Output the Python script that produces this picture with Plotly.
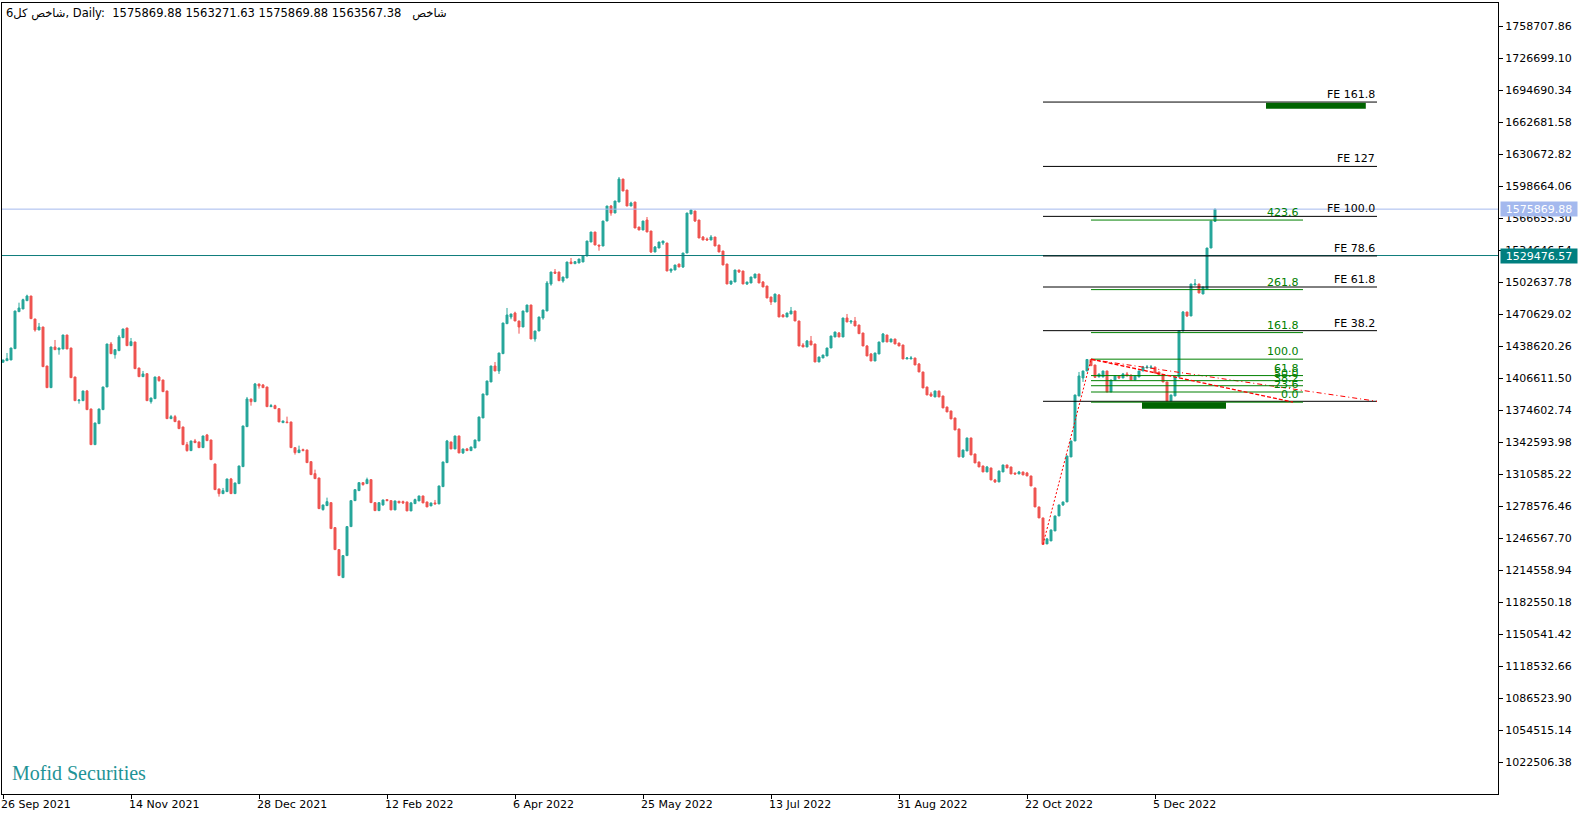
import plotly.graph_objects as go

# ---------------- data (daily candles) ----------------
open_ = [
1422700,1424300,1425000,1436300,1473300,1476000,1484300,1489000,1466000,1455000,
1458000,1419000,1397300,1438000,1435300,1436000,1450000,1437000,1408000,1384300,
1384300,1394000,1376000,1340300,1361300,1375300,1398000,1441000,1430300,1434300,
1447300,1457000,1439300,1443000,1417000,1408300,1411300,1383300,1386300,1408000,
1405000,1394000,1366300,1368300,1364000,1358000,1340300,1334300,1344000,1343000,
1337300,1350000,1345000,1321000,1296000,1291300,1293300,1306000,1291300,1301300,
1318300,1358300,1386000,1383300,1401000,1400000,1398000,1378300,1379300,1376300,
1362300,1363000,1363000,1337300,1332300,1335300,1335000,1323300,1311300,1307000,
1275300,1279300,1282300,1257300,1235300,1207300,1229300,1258300,1284300,1294300,
1302300,1301300,1305300,1282300,1274300,1280000,1285300,1284300,1275000,1283700,
1283300,1283000,1274000,1281300,1284000,1289000,1283000,1279000,1282000,1281000,
1298300,1322300,1343000,1336000,1349000,1332000,1336000,1334300,1337000,1344000,
1367000,1390000,1403000,1419000,1414000,1431300,1461300,1468000,1472000,1464000,
1458000,1473000,1480000,1446000,1454000,1467000,1474000,1501000,1513000,1513000,
1504000,1507000,1523000,1521300,1522000,1523000,1529000,1543000,1553000,1540000,
1539000,1564000,1579000,1572000,1583000,1606000,1595000,1579000,1583000,1558000,
1555000,1565000,1554000,1533000,1537000,1542000,1542000,1514000,1515000,1521000,
1518000,1532000,1571000,1574000,1565000,1548000,1546000,1545000,1548000,1540000,1534000,
1521000,1501000,1503000,1515000,1514000,1501000,1502000,1507000,1511000,1503000,
1499000,1488000,1483000,1490000,1470000,1468000,1471000,1474000,1464000,1440000,
1438000,1444000,1441000,1423000,1427000,1429000,1437000,1448000,1452000,1448000,
1467000,1463000,1464000,1460000,1452000,1439000,1431000,1424000,1431000,1443000,
1450000,1443000,1446000,1442000,1440000,1426000,1426000,1427000,1421000,1413000,
1398000,1391000,1388000,1394000,1389000,1378000,1374000,1367000,1356000,1328000,
1334000,1347000,1331000,1323000,1319000,1313000,1317000,1305000,1303000,1313000,
1320000,1318000,1312000,1311000,1313000,1312000,1309000,1297000,1278000,1267000,
1241000,1244000,1254000,1269000,1280000,1283000,1328000,1344000,1389000,1407000,
1414000,1425500,1420000,1408000,1408000,1414000,1393000,1405000,1409000,1407000,
1411000,1410000,1405000,1408000,1414000,1417000,1417000,1418000,1413000,1410000,
1403000,1384000,1389000,1408000,1454000,1473000,1469000,1500000,1501000,1491000,
1496000,1537000,1563567.38]

high = [
1425000,1432000,1437000,1474000,1482300,1486300,1490300,1489000,1466000,1462000,
1458000,1419000,1438000,1445000,1437000,1450000,1450000,1437000,1408000,1385000,
1394000,1395000,1376000,1362000,1376000,1398000,1441000,1443000,1435300,1450000,
1456000,1457000,1447000,1443000,1417000,1414000,1411300,1387000,1408000,1409000,
1405000,1394000,1370000,1370000,1364000,1358000,1343000,1344000,1346000,1343000,
1349000,1351000,1345000,1321000,1296000,1297000,1306000,1307000,1302000,1319000,
1359000,1388000,1386000,1402000,1401000,1401000,1398000,1381000,1380300,1376300,
1364000,1368300,1363000,1337300,1339300,1336300,1335000,1323300,1315300,1307000,
1280000,1287300,1282300,1257300,1235300,1229300,1258300,1284300,1295300,1302300,
1302300,1307300,1305300,1282300,1282300,1285000,1285300,1284300,1284000,1283700,
1284300,1283000,1283000,1286300,1289000,1289000,1283000,1282000,1285000,1299000,
1323000,1345000,1343000,1349000,1349000,1336000,1337000,1338000,1345000,1368000,
1391000,1404000,1419000,1423000,1432000,1462000,1477000,1471000,1473300,1464000,
1474000,1480000,1480000,1454000,1468000,1475000,1504000,1513000,1516000,1513000,
1508000,1523000,1527000,1524000,1526000,1529000,1544000,1553000,1553000,1540000,
1564000,1579000,1580000,1584000,1608000,1606000,1595000,1583300,1583000,1558000,
1564000,1568000,1554000,1539000,1543000,1544000,1542000,1516000,1520000,1521000,
1532000,1572000,1575000,1574000,1565000,1549000,1547500,1550000,1548000,1540000,1534000,
1521000,1504000,1515000,1515000,1514000,1503000,1508000,1511000,1511000,1504000,
1499000,1488000,1491000,1491000,1471000,1472000,1478000,1474000,1464000,1442000,
1445000,1449000,1441000,1428000,1430000,1437000,1449000,1453000,1453000,1467000,
1471000,1464000,1468000,1460000,1452000,1440000,1432000,1432000,1443000,1452000,
1450000,1446000,1446000,1442000,1440000,1428000,1429000,1427000,1422000,1413000,
1398000,1393000,1394000,1394000,1389000,1378000,1374000,1367000,1356000,1335000,
1347000,1347000,1331000,1323000,1319000,1319000,1317000,1306000,1314000,1320000,
1320000,1318000,1312000,1314000,1313000,1313000,1309000,1297000,1278000,1267000,
1247000,1255000,1269000,1280000,1283000,1329000,1344000,1390000,1413000,1414000,
1425500,1425500,1420000,1411000,1414000,1414000,1405000,1409300,1409000,1412000,
1413000,1410000,1409000,1414000,1419000,1420000,1420000,1418000,1413000,1410000,
1403000,1390000,1408000,1454000,1474000,1473000,1501000,1506000,1501000,1498000,
1537000,1564000,1575869.88]

low = [
1422700,1424300,1425000,1436300,1473300,1476000,1484300,1466300,1453300,1455000,
1418300,1397300,1397300,1435300,1430300,1436000,1436000,1407300,1384300,1381300,
1384300,1375300,1340300,1340300,1361300,1375300,1398000,1431300,1426300,1434300,
1447300,1439300,1439300,1416300,1408300,1408300,1384300,1381300,1386300,1403300,
1393300,1366300,1366300,1363300,1356300,1340300,1333300,1334300,1342300,1337300,
1337300,1344300,1325300,1295300,1288300,1291300,1293300,1291300,1291300,1301300,
1318300,1358300,1379300,1383300,1396300,1397300,1378300,1378300,1376300,1363000,
1362300,1362300,1337300,1330300,1332300,1334300,1322300,1310300,1306300,1276300,
1274300,1279300,1256300,1235300,1209300,1207300,1229300,1258300,1284300,1294300,
1299300,1301300,1282300,1274300,1274300,1279300,1284300,1275000,1275000,1282000,
1281000,1274000,1274000,1281300,1284000,1282000,1278000,1279000,1281000,1281000,
1298300,1322300,1336000,1336000,1332000,1331000,1334300,1334300,1337000,1344000,
1367000,1390000,1403000,1414000,1411000,1431300,1461300,1465700,1464000,1451300,
1458000,1473000,1446000,1443300,1454000,1465300,1474000,1499300,1511000,1504300,
1502300,1507000,1521300,1521300,1522000,1523000,1529000,1543000,1540000,1534300,
1539000,1564000,1569300,1572000,1583000,1594000,1579000,1579000,1557000,1555000,
1555000,1553000,1532000,1533000,1537000,1540000,1514000,1512000,1515000,1518000,
1517000,1532000,1571000,1563000,1547000,1545000,1544500,1545000,1539000,1533000,1520000,
1501000,1500000,1503000,1512000,1501000,1500000,1502000,1507000,1502000,1498000,
1487000,1480000,1483000,1468000,1468000,1468000,1471000,1464000,1439000,1438000,
1438000,1440000,1423000,1423000,1427000,1429000,1437000,1448000,1448000,1448000,
1463000,1461000,1459000,1451300,1439000,1429000,1424000,1424000,1431000,1443000,
1443000,1443000,1441000,1439000,1426000,1426000,1426000,1420000,1413000,1397000,
1390000,1388000,1388000,1388000,1377000,1373000,1366000,1355000,1328000,1327000,
1334000,1330000,1322000,1318000,1313000,1313000,1305000,1302000,1303000,1313000,
1317000,1311000,1310000,1311000,1310000,1309000,1299000,1278000,1267000,1240500,
1241000,1244000,1254000,1269000,1279000,1283000,1328000,1344000,1389000,1403000,
1414000,1419300,1407000,1408000,1408000,1393000,1393000,1405000,1406000,1407000,
1409000,1405000,1405000,1408000,1414000,1417000,1417000,1412000,1410000,1403000,
1384000,1384000,1389000,1408000,1454000,1468000,1469000,1500000,1492000,1491000,
1496000,1537000,1563271.63]

close = [
1425000,1426300,1437000,1474000,1477000,1485300,1489000,1466300,1455000,1458000,
1418300,1397300,1438000,1435300,1437000,1450000,1436000,1407300,1384300,1385000,
1394000,1375300,1340300,1362000,1376000,1398000,1441000,1431300,1435300,1448000,
1456000,1439300,1443300,1416300,1408300,1411000,1384300,1387000,1408000,1404300,
1393300,1366300,1368300,1363300,1356300,1340300,1334300,1344000,1342300,1337300,
1349000,1344300,1325300,1295300,1291300,1294300,1306000,1291300,1302000,1319000,
1359000,1386000,1383300,1401000,1399000,1397300,1378300,1379300,1376300,1363000,
1364000,1362300,1337300,1332300,1335000,1334300,1322300,1310300,1306300,1276300,
1280000,1283300,1256300,1235300,1209300,1229300,1258300,1284300,1295300,1302300,
1300300,1305300,1282300,1274300,1282300,1285000,1284300,1275000,1284000,1282000,
1282000,1274000,1282000,1285300,1289000,1282000,1278000,1282000,1281000,1299000,
1323000,1344000,1336000,1349000,1332000,1336000,1334300,1338000,1345000,1368000,
1391000,1404000,1419000,1414000,1432000,1462000,1470000,1471000,1464000,1458000,
1474000,1480000,1446000,1454000,1468000,1475000,1502000,1513000,1511700,1504300,
1508000,1523000,1521300,1523300,1526000,1529000,1544000,1553000,1540000,1539000,
1564000,1579000,1572000,1584000,1606000,1594000,1579000,1582000,1557000,1555000,
1564000,1553000,1533000,1538000,1543000,1544000,1514000,1516000,1520000,1518000,
1532000,1572000,1575000,1564000,1547000,1545000,1545000,1548000,1539000,1533000,1520000,
1501000,1504000,1515000,1513000,1501000,1503000,1508000,1511000,1502000,1498000,
1487000,1483000,1491000,1468000,1468000,1472000,1474000,1464000,1439000,1438000,
1444000,1440000,1423000,1428000,1430000,1437000,1449000,1453000,1448000,1467000,
1463000,1464000,1459000,1451300,1439000,1429000,1424000,1432000,1443000,1451000,
1443000,1446000,1441000,1439000,1426000,1427000,1427000,1420000,1413000,1397000,
1390000,1389000,1394000,1388000,1377000,1373000,1366000,1355000,1328000,1335000,
1347000,1330000,1322000,1318000,1313000,1318000,1305000,1303000,1314000,1320000,
1317000,1311000,1311000,1313000,1310000,1309000,1299000,1278000,1267000,1240500,
1246000,1255000,1269000,1280000,1283000,1329000,1344000,1390000,1409000,1414000,
1425500,1419300,1407700,1411000,1414000,1393000,1405000,1409300,1407000,1411000,
1409000,1405000,1409000,1414000,1418000,1418000,1418000,1412000,1410000,1403000,
1384000,1390000,1408000,1454000,1473000,1469000,1501000,1501000,1492000,1498000,
1537000,1564000,1575869.88]

# x-axis date labels (every 32 bars)
date_tick_bars = [0, 32, 64, 96, 128, 160, 192, 224, 256, 288]
date_tick_labels = ["26 Sep 2021", "14 Nov 2021", "28 Dec 2021", "12 Feb 2022", "6 Apr 2022",
                    "25 May 2022", "13 Jul 2022", "31 Aug 2022", "22 Oct 2022", "5 Dec 2022"]

# price scale labels
price_ticks = [1022506.38, 1054515.14, 1086523.90, 1118532.66, 1150541.42, 1182550.18,
               1214558.94, 1246567.70, 1278576.46, 1310585.22, 1342593.98, 1374602.74,
               1406611.50, 1438620.26, 1470629.02, 1502637.78, 1534646.54, 1566655.30,
               1598664.06, 1630672.82, 1662681.58, 1694690.34, 1726699.10, 1758707.86]

# horizontal price lines
bid_price = 1575869.88
hline_price = 1529476.57

# Fibonacci expansion (A low, B high, C) anchors
fe_x = [260, 272, 343.5]
fe_y = [1240500, 1425500, 1383650]
fe_levels = [0.0, 38.2, 61.8, 78.6, 100.0, 127.0, 161.8]
fe_labels = ["", "FE 38.2", "FE 61.8", "FE 78.6", "FE 100.0", "FE 127", "FE 161.8"]

# Fibonacci retracement anchors (100 at first point, 0 at second)
fib_x = [272, 322.5]
fib_line_end = 325
fib_y = [1425800, 1382800]
fib_levels = [0.0, 23.6, 38.2, 50.0, 61.8, 100.0, 161.8, 261.8, 423.6]
fib_labels = ["0.0", "23.6", "38.2", "50.0", "61.8", "100.0", "161.8", "261.8", "423.6"]

# dark green rectangles
rect_x0 = [315.75, 284.75]
rect_x1 = [340.7, 305.75]
rect_y0 = [1676300, 1376300]
rect_y1 = [1682400, 1382600]

header_text = "شاخص کل6, Daily:\u00a0\u00a01575869.88 1563271.63 1575869.88 1563567.38\u00a0\u00a0\u00a0شاخص"
watermark = "Mofid Securities"

# ---------------- figure ----------------
UP = "#26A69A"
DN = "#EF5350"
FONT = "DejaVu Sans"

n = len(open_)
bars = list(range(n))

fig = go.Figure()
fig.add_trace(go.Candlestick(
    x=bars, open=open_, high=high, low=low, close=close,
    increasing=dict(line=dict(color=UP, width=1), fillcolor=UP),
    decreasing=dict(line=dict(color=DN, width=1), fillcolor=DN),
    whiskerwidth=0, hoverinfo="skip", showlegend=False,
))

shapes = []
annotations = []

# horizontal lines across the whole chart
shapes.append(dict(type="line", xref="paper", yref="y", x0=0, x1=1, y0=bid_price, y1=bid_price,
                   line=dict(color="#A4B9EE", width=1), layer="above"))
shapes.append(dict(type="line", xref="paper", yref="y", x0=0, x1=1, y0=hline_price, y1=hline_price,
                   line=dict(color="#0E7C7B", width=1), layer="above"))

# Fibonacci expansion
fe_range = fe_y[1] - fe_y[0]
for lvl, lab in zip(fe_levels, fe_labels):
    yv = fe_y[2] + lvl / 100.0 * fe_range
    shapes.append(dict(type="line", xref="x", yref="y", x0=fe_x[0], x1=fe_x[2], y0=yv, y1=yv,
                       line=dict(color="black", width=1), layer="above"))
    if lab:
        annotations.append(dict(x=fe_x[2], y=yv, xref="x", yref="y", text=lab, showarrow=False,
                                xanchor="right", yanchor="bottom", yshift=-1,
                                font=dict(family=FONT, size=11, color="black")))
# trend lines of the expansion
shapes.append(dict(type="line", xref="x", yref="y", x0=fe_x[0], y0=fe_y[0], x1=fe_x[1], y1=fe_y[1],
                   line=dict(color="red", width=1, dash="2px,2px"), layer="above"))
shapes.append(dict(type="line", xref="x", yref="y", x0=fe_x[1], y0=fe_y[1], x1=fe_x[2], y1=fe_y[2],
                   line=dict(color="red", width=1, dash="5px,3px,1px,3px"), layer="above"))

# Fibonacci retracement
fib_range = fib_y[0] - fib_y[1]
for lvl, lab in zip(fib_levels, fib_labels):
    yv = fib_y[1] + lvl / 100.0 * fib_range
    shapes.append(dict(type="line", xref="x", yref="y", x0=fib_x[0], x1=fib_line_end, y0=yv, y1=yv,
                       line=dict(color="#008000", width=1), layer="above"))
    annotations.append(dict(x=fib_line_end, y=yv, xref="x", yref="y", text=lab, showarrow=False,
                            xanchor="right", yanchor="bottom", xshift=-2, yshift=-1,
                            font=dict(family=FONT, size=11, color="#008000")))
shapes.append(dict(type="line", xref="x", yref="y", x0=fib_x[0], y0=fib_y[0], x1=fib_x[1], y1=fib_y[1],
                   line=dict(color="red", width=1.3, dash="4px,2px"), layer="above"))

# rectangles
for x0, x1, y0, y1 in zip(rect_x0, rect_x1, rect_y0, rect_y1):
    shapes.append(dict(type="rect", xref="x", yref="y", x0=x0, x1=x1, y0=y0, y1=y1,
                       fillcolor="#006400", line=dict(width=0), layer="above"))

# price labels on the scale
annotations.append(dict(x=1, xref="paper", xanchor="left", xshift=2, y=bid_price, yref="y",
                        yanchor="middle", text="%.2f" % bid_price, showarrow=False,
                        bgcolor="#A4B9EE", width=76, height=14, borderpad=0,
                        font=dict(family=FONT, size=11, color="white")))
annotations.append(dict(x=1, xref="paper", xanchor="left", xshift=2, y=hline_price, yref="y",
                        yanchor="middle", text="%.2f" % hline_price, showarrow=False,
                        bgcolor="#007F7F", width=76, height=14, borderpad=0,
                        font=dict(family=FONT, size=11, color="white")))

# header and watermark
annotations.append(dict(x=0, y=1, xref="paper", yref="paper", xanchor="left", yanchor="top",
                        xshift=2, yshift=-1, text=header_text, showarrow=False,
                        font=dict(family=FONT, size=11.5, color="black")))
annotations.append(dict(x=0, y=0, xref="paper", yref="paper", xanchor="left", yanchor="bottom",
                        xshift=8, yshift=8, text=watermark, showarrow=False,
                        font=dict(family="Liberation Serif", size=20, color="#1F9396")))

fig.update_layout(
    width=1589, height=818,
    margin=dict(l=2, r=91, t=3, b=24, autoexpand=False),
    paper_bgcolor="white", plot_bgcolor="white",
    boxgap=0.3, boxgroupgap=0.3,
    shapes=shapes, annotations=annotations,
    font=dict(family=FONT, size=11, color="black"),
    showlegend=False,
    xaxis=dict(
        range=[-0.25, 373.75], rangeslider=dict(visible=False),
        tickmode="array", tickvals=date_tick_bars, ticktext=date_tick_labels,
        ticks="outside", ticklen=4, tickcolor="black", ticklabelposition="outside right",
        ticklabelshift=-3,
        showgrid=False, zeroline=False, showline=True, linecolor="black", linewidth=1,
        mirror=True, automargin=False, tickfont=dict(family=FONT, size=11, color="black"),
        fixedrange=True,
    ),
    yaxis=dict(
        range=[990851, 1782064], side="right",
        tickmode="array", tickvals=price_ticks, ticktext=["%.2f" % v for v in price_ticks],
        ticks="outside", ticklen=4, tickcolor="black",
        showgrid=False, zeroline=False, showline=True, linecolor="black", linewidth=1,
        mirror=True, automargin=False, tickfont=dict(family=FONT, size=11, color="black"),
        fixedrange=True,
    ),
)

fig.write_html("out.html", config={"displayModeBar": False},
               post_script="document.body.style.margin='0px';document.body.style.overflow='hidden';")
